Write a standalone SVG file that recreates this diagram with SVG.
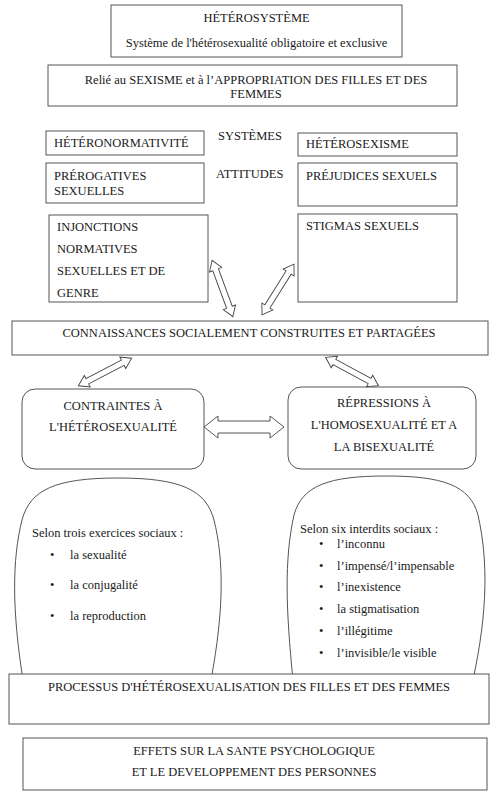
<svg xmlns="http://www.w3.org/2000/svg" width="496" height="800" viewBox="0 0 496 800">
<style>
text{font-family:"Liberation Serif","Times New Roman",serif;font-size:12.5px;fill:#1a1a1a}
.c{text-anchor:middle}
.box{fill:#fff;stroke:#555;stroke-width:1}
.arr{fill:#fff;stroke:#444;stroke-width:0.9}
</style>
<rect width="496" height="800" fill="#fff"/>
<g id="heterosysteme">
<rect class="box" x="111" y="5" width="291" height="52"/>
<text class="c" x="256.5" y="22">HÉTÉROSYSTÈME</text>
<text class="c" x="256.5" y="47">Système de l'hétérosexualité obligatoire et exclusive</text>
</g>
<g id="sexisme">
<rect class="box" x="48" y="65" width="409" height="41"/>
<text class="c" x="256" y="84">Relié au SEXISME et à l’APPROPRIATION DES FILLES ET DES</text>
<text class="c" x="256" y="98">FEMMES</text>
</g>
<g id="labels">
<text x="218" y="140">SYSTÈMES</text>
<text x="216" y="178">ATTITUDES</text>
</g>
<g id="heteronormativite">
<rect class="box" x="46" y="131" width="158" height="24"/>
<text x="54" y="147">HÉTÉRONORMATIVITÉ</text>
</g>
<g id="heterosexisme">
<rect class="box" x="298" y="133" width="159" height="23"/>
<text x="306" y="148">HÉTÉROSEXISME</text>
</g>
<g id="prerogatives">
<rect class="box" x="46" y="163" width="158" height="40"/>
<text x="54" y="180">PRÉROGATIVES</text>
<text x="54" y="195">SEXUELLES</text>
</g>
<g id="prejudices">
<rect class="box" x="298" y="163" width="159" height="43"/>
<text x="306" y="180">PRÉJUDICES SEXUELS</text>
</g>
<g id="injonctions">
<rect class="box" x="49" y="215" width="159" height="87"/>
<text x="57" y="231">INJONCTIONS</text>
<text x="57" y="253">NORMATIVES</text>
<text x="57" y="275">SEXUELLES ET DE</text>
<text x="57" y="297">GENRE</text>
</g>
<g id="stigmas">
<rect class="box" x="298" y="214" width="159" height="88"/>
<text x="306" y="230">STIGMAS SEXUELS</text>
</g>
<g id="connaissances">
<rect class="box" x="12" y="321" width="476" height="34"/>
<text class="c" x="249" y="337">CONNAISSANCES SOCIALEMENT CONSTRUITES ET PARTAGÉES</text>
</g>
<g id="contraintes">
<rect class="box" x="22" y="389" width="182" height="80" rx="13"/>
<text class="c" x="113" y="410">CONTRAINTES À</text>
<text class="c" x="113" y="431">L'HÉTÉROSEXUALITÉ</text>
</g>
<g id="repressions">
<rect class="box" x="288" y="387" width="188" height="82" rx="13"/>
<text class="c" x="384" y="407">RÉPRESSIONS À</text>
<text class="c" x="384" y="429">L'HOMOSEXUALITÉ ET A</text>
<text class="c" x="384" y="451">LA BISEXUALITÉ</text>
</g>
<g id="exercices">
<path class="box" d="M 23,680 C 12,610 12,560 22,520 C 30,490 55,478 118,478 C 181,478 206,490 214,520 C 224,560 224,610 211,680"/>
<text x="32" y="537">Selon trois exercices sociaux :</text>
<text x="50" y="559">•</text><text x="70" y="559">la sexualité</text>
<text x="50" y="589">•</text><text x="70" y="589">la conjugalité</text>
<text x="50" y="620">•</text><text x="70" y="620">la reproduction</text>
</g>
<g id="interdits">
<path class="box" d="M 293,680 C 286,610 284,560 294,515 C 302,485 330,476 386,476 C 442,476 470,485 478,515 C 488,560 488,610 473,680"/>
<text x="300" y="533">Selon six interdits sociaux :</text>
<text x="319" y="548">•</text><text x="337" y="548">l’inconnu</text>
<text x="319" y="570">•</text><text x="337" y="570">l’impensé/l’impensable</text>
<text x="319" y="591">•</text><text x="337" y="591">l’inexistence</text>
<text x="319" y="613">•</text><text x="337" y="613">la stigmatisation</text>
<text x="319" y="635">•</text><text x="337" y="635">l’illégitime</text>
<text x="319" y="657">•</text><text x="337" y="657">l’invisible/le visible</text>
</g>
<g id="processus">
<rect class="box" x="9" y="674" width="480" height="50"/>
<text class="c" x="249" y="691">PROCESSUS D'HÉTÉROSEXUALISATION DES FILLES ET DES FEMMES</text>
</g>
<g id="effets">
<rect class="box" x="23" y="738" width="464" height="52"/>
<text class="c" x="254" y="755">EFFETS SUR LA SANTE PSYCHOLOGIQUE</text>
<text class="c" x="254" y="776">ET LE DEVELOPPEMENT DES PERSONNES</text>
</g>
<g id="connectors">
<defs>
<path id="da" d="M -30,0 L -20,-6.5 L -20,-3 L 20,-3 L 20,-6.5 L 30,0 L 20,6.5 L 20,3 L -20,3 L -20,6.5 Z"/>
</defs>
<use href="#da" class="arr" transform="translate(222.5,288.5) rotate(69.8)"/>
<use href="#da" class="arr" transform="translate(278,289.5) rotate(122.1)"/>
<use href="#da" class="arr" transform="translate(105,372) rotate(-27.4)"/>
<use href="#da" class="arr" transform="translate(352,371.5) rotate(28.2)"/>
<path class="arr" d="M 204,427 L 218,416 L 218,421 L 270,421 L 270,416 L 284,427 L 270,438 L 270,433 L 218,433 L 218,438 Z"/>
</g>
</svg>
